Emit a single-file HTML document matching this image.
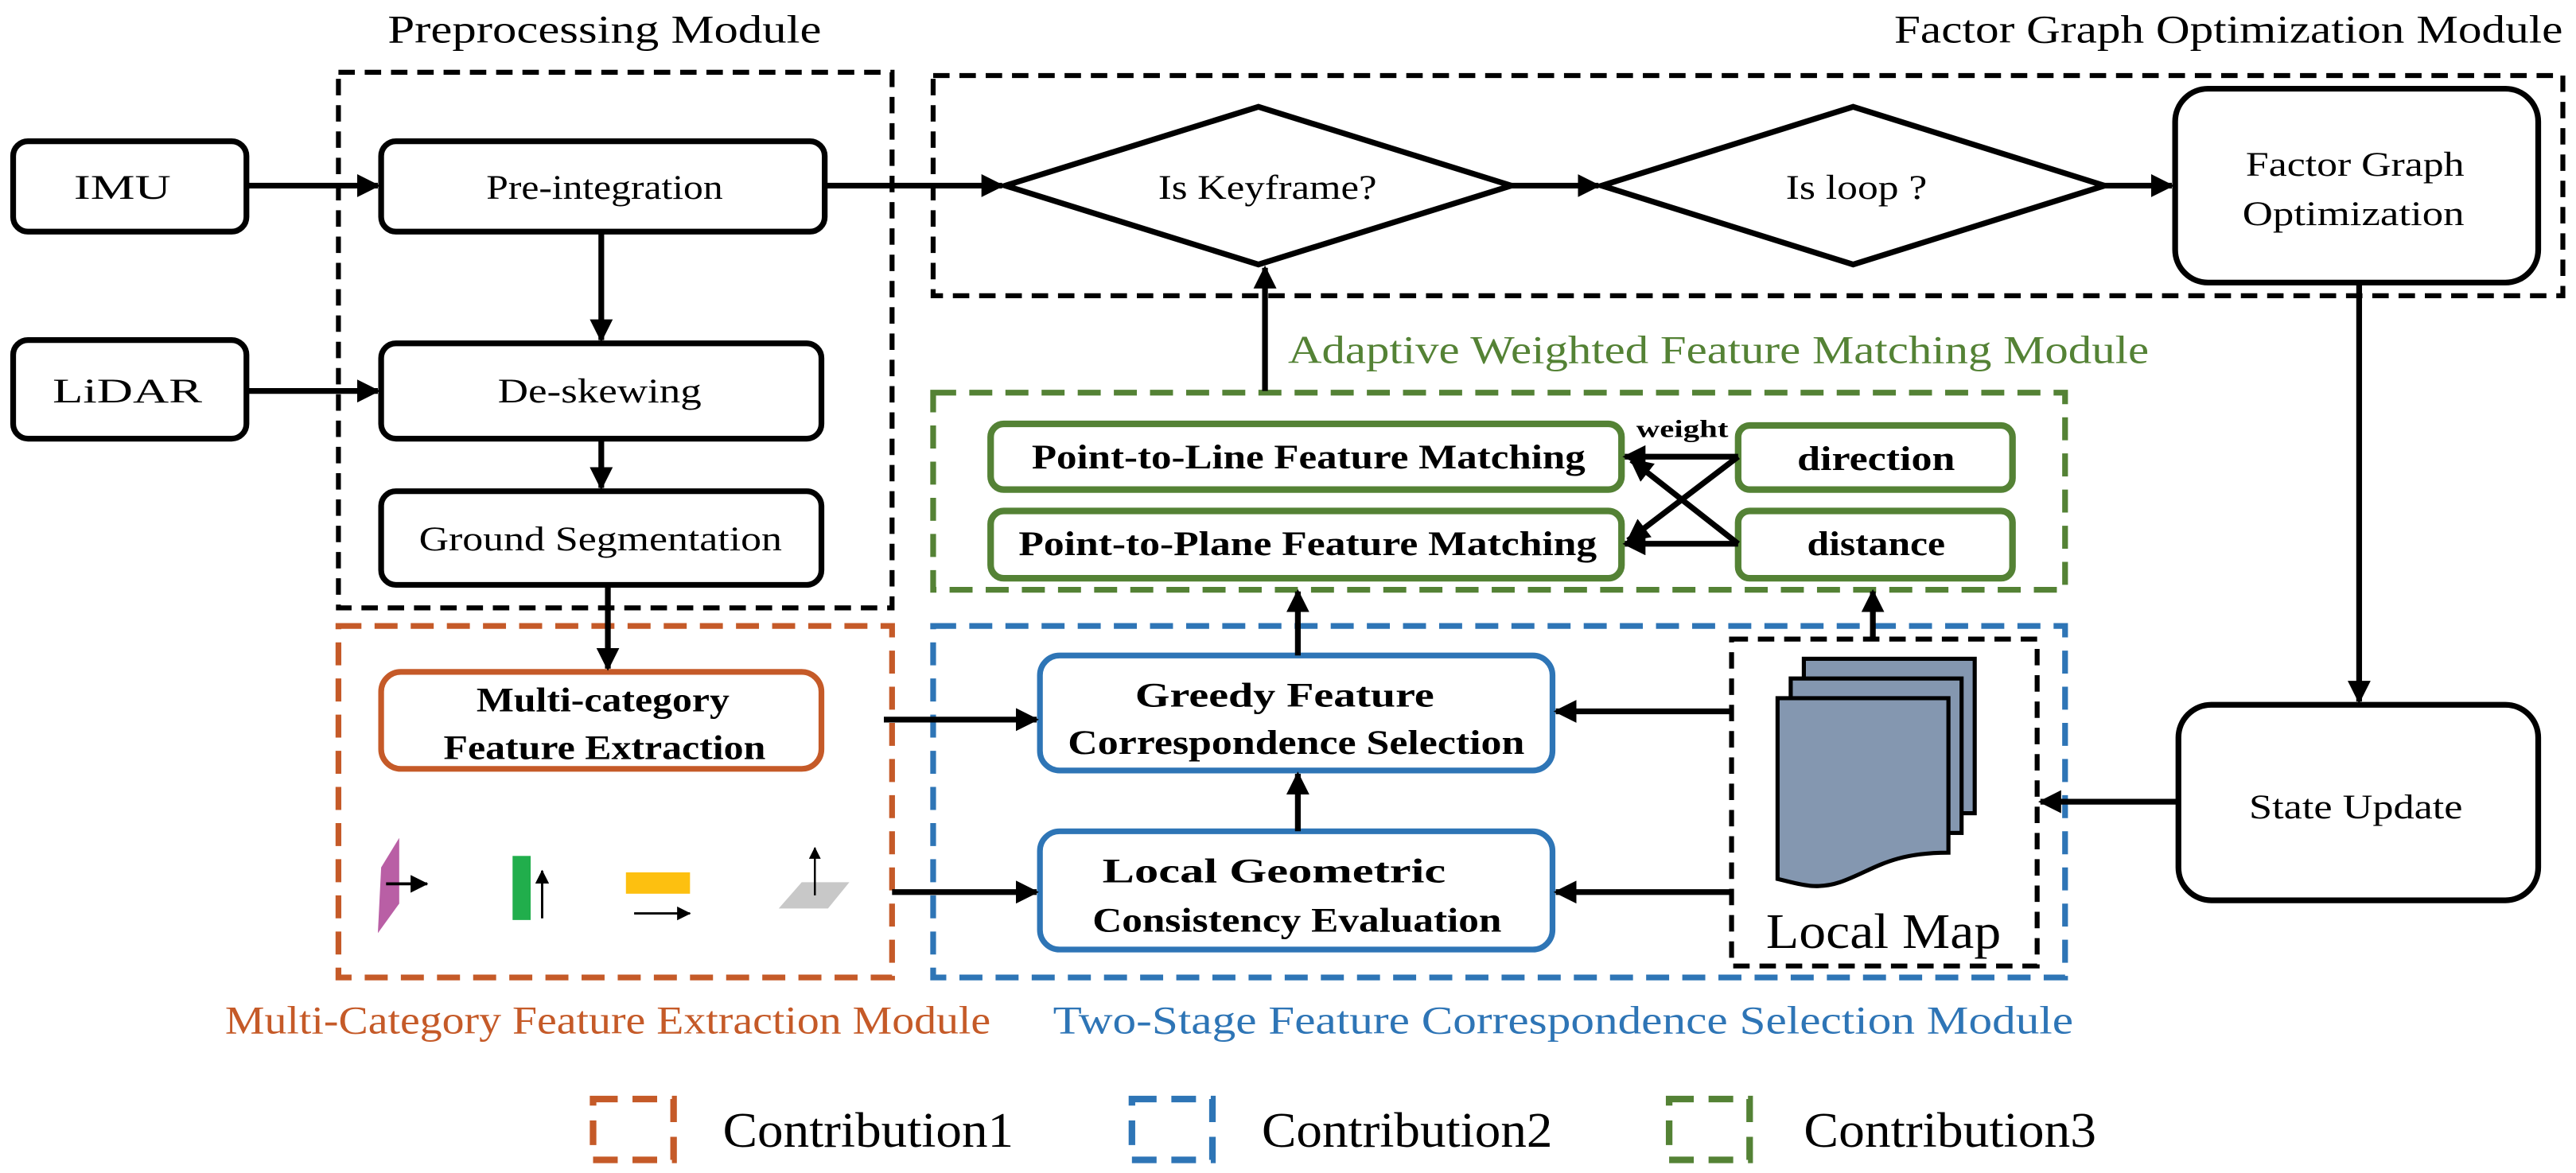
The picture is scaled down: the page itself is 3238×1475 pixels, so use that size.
<!DOCTYPE html>
<html><head><meta charset="utf-8"><style>
html,body{margin:0;padding:0;background:#fff;}
svg{display:block;}
text{font-family:"Liberation Serif","Times New Roman",serif;fill:#000;}
</style></head><body>
<svg width="3238" height="1475" viewBox="0 0 1568 714" preserveAspectRatio="none" xmlns="http://www.w3.org/2000/svg">
<defs>
<marker id="a" markerWidth="4" markerHeight="4" refX="3.6" refY="2" orient="auto" markerUnits="strokeWidth"><path d="M0,0 L4,2 L0,4 z" fill="#000"/></marker>
<marker id="b" markerWidth="6" markerHeight="6" refX="5.6" refY="3" orient="auto" markerUnits="strokeWidth"><path d="M0,0 L6,3 L0,6 z" fill="#000"/></marker>
</defs>
<text x="236" y="26" font-size="24" textLength="264" lengthAdjust="spacingAndGlyphs">Preprocessing Module</text>
<text x="1153" y="26" font-size="24" textLength="407" lengthAdjust="spacingAndGlyphs">Factor Graph Optimization Module</text>
<text x="784" y="221" font-size="24" style="fill:#548235" textLength="524" lengthAdjust="spacingAndGlyphs">Adaptive Weighted Feature Matching Module</text>
<text x="137" y="629" font-size="24" style="fill:#C55A28" textLength="466" lengthAdjust="spacingAndGlyphs">Multi-Category Feature Extraction Module</text>
<text x="641" y="629" font-size="24" style="fill:#2E75B6" textLength="621" lengthAdjust="spacingAndGlyphs">Two-Stage Feature Correspondence Selection Module</text>

<g fill="none" stroke-width="3">
<rect x="206" y="44" width="337" height="326" stroke="#000" stroke-dasharray="10,6"/>
<rect x="568" y="46" width="992" height="134" stroke="#000" stroke-dasharray="10,6"/>
<rect x="568" y="239" width="689" height="120" stroke="#548235" stroke-dasharray="14,8" stroke-width="3.5"/>
<rect x="206" y="381" width="337" height="214" stroke="#C55A28" stroke-dasharray="14,8" stroke-width="3.5"/>
<rect x="568" y="381" width="689" height="214" stroke="#2E75B6" stroke-dasharray="14,8" stroke-width="3.5"/>
<rect x="1054" y="389" width="186" height="199" stroke="#000" stroke-dasharray="10,6"/>
</g>

<g fill="#fff" stroke="#000" stroke-width="3.5">
<rect x="8" y="86" width="142" height="55" rx="9"/>
<rect x="8" y="207" width="142" height="60" rx="9"/>
<rect x="232" y="86" width="270" height="55" rx="9"/>
<rect x="232" y="209" width="268" height="58" rx="9"/>
<rect x="232" y="299" width="268" height="57" rx="9"/>
<polygon points="612,113 766,65 920,113 766,161"/>
<polygon points="975,113 1128,65 1281,113 1128,161"/>
<rect x="1324" y="54" width="221" height="118" rx="20"/>
<rect x="1326" y="429" width="219" height="119" rx="20"/>
</g>
<text x="45" y="121" font-size="21" textLength="59" lengthAdjust="spacingAndGlyphs">IMU</text>
<text x="32" y="245" font-size="21" textLength="91" lengthAdjust="spacingAndGlyphs">LiDAR</text>
<text x="296" y="121" font-size="21" textLength="144" lengthAdjust="spacingAndGlyphs">Pre-integration</text>
<text x="303" y="245" font-size="21" textLength="124" lengthAdjust="spacingAndGlyphs">De-skewing</text>
<text x="255" y="335" font-size="21" textLength="221" lengthAdjust="spacingAndGlyphs">Ground Segmentation</text>
<text x="705" y="121" font-size="21" textLength="133" lengthAdjust="spacingAndGlyphs">Is Keyframe?</text>
<text x="1087" y="121" font-size="21" textLength="86" lengthAdjust="spacingAndGlyphs">Is loop ?</text>
<text x="1367" y="107" font-size="21" textLength="133" lengthAdjust="spacingAndGlyphs">Factor Graph</text>
<text x="1365" y="137" font-size="21" textLength="135" lengthAdjust="spacingAndGlyphs">Optimization</text>
<text x="1369" y="498" font-size="21" textLength="130" lengthAdjust="spacingAndGlyphs">State Update</text>

<g fill="#fff" stroke="#548235" stroke-width="4">
<rect x="603" y="258" width="384" height="40" rx="8"/>
<rect x="603" y="311" width="384" height="41" rx="8"/>
<rect x="1058" y="259" width="167" height="39" rx="7"/>
<rect x="1058" y="311" width="167" height="41" rx="7"/>
</g>
<g font-weight="bold">
<text x="628" y="285" font-size="21" textLength="337" lengthAdjust="spacingAndGlyphs">Point-to-Line Feature Matching</text>
<text x="620" y="338" font-size="21" textLength="352" lengthAdjust="spacingAndGlyphs">Point-to-Plane Feature Matching</text>
<text x="1094" y="286" font-size="21" textLength="96" lengthAdjust="spacingAndGlyphs">direction</text>
<text x="1100" y="338" font-size="21" textLength="84" lengthAdjust="spacingAndGlyphs">distance</text>
<text x="996" y="266" font-size="15" textLength="56" lengthAdjust="spacingAndGlyphs">weight</text>
</g>

<rect x="232" y="409" width="268" height="59" rx="12" fill="#fff" stroke="#C55A28" stroke-width="3.5"/>
<rect x="633" y="399" width="312" height="70" rx="12" fill="#fff" stroke="#2E75B6" stroke-width="3.5"/>
<rect x="633" y="506" width="312" height="72" rx="12" fill="#fff" stroke="#2E75B6" stroke-width="3.5"/>
<g font-weight="bold">
<text x="290" y="433" font-size="21" textLength="154" lengthAdjust="spacingAndGlyphs">Multi-category</text>
<text x="270" y="462" font-size="21" textLength="196" lengthAdjust="spacingAndGlyphs">Feature Extraction</text>
<text x="691" y="430" font-size="21" textLength="182" lengthAdjust="spacingAndGlyphs">Greedy Feature</text>
<text x="650" y="459" font-size="21" textLength="278" lengthAdjust="spacingAndGlyphs">Correspondence Selection</text>
<text x="671" y="537" font-size="21" textLength="209" lengthAdjust="spacingAndGlyphs">Local Geometric</text>
<text x="665" y="567" font-size="21" textLength="249" lengthAdjust="spacingAndGlyphs">Consistency Evaluation</text>
</g>

<polygon points="243,510 243,550 230,568 232,528" fill="#B95FA5"/>
<line x1="235" y1="538" x2="260" y2="538" stroke="#000" stroke-width="1.8" marker-end="url(#b)"/>
<rect x="312" y="521" width="11" height="39" fill="#21AE4C"/>
<line x1="330" y1="559" x2="330" y2="530" stroke="#000" stroke-width="1.4" marker-end="url(#b)"/>
<rect x="381" y="531" width="39" height="13" fill="#FDC010"/>
<line x1="386" y1="556" x2="420" y2="556" stroke="#000" stroke-width="1.4" marker-end="url(#b)"/>
<polygon points="488,537 517,537 504,553 474,553" fill="#C8C8C8"/>
<line x1="496" y1="545" x2="496" y2="516" stroke="#000" stroke-width="1.2" marker-end="url(#b)"/>

<g fill="#8497B0" stroke="#000" stroke-width="2.5">
<rect x="1098" y="401" width="104" height="94"/>
<rect x="1090" y="413" width="104" height="94"/>
<path d="M1082,425 H1186 V519 C1150,519 1140,530 1120,537 C1105,542 1095,538 1082,535 Z"/>
</g>
<text x="1075" y="577" font-size="30" textLength="143" lengthAdjust="spacingAndGlyphs">Local Map</text>

<g stroke="#000" stroke-width="3.5" fill="none" marker-end="url(#a)">
<line x1="150" y1="113" x2="230" y2="113"/>
<line x1="150" y1="238" x2="230" y2="238"/>
<line x1="366" y1="141" x2="366" y2="207"/>
<line x1="366" y1="267" x2="366" y2="297"/>
<line x1="370" y1="356" x2="370" y2="407"/>
<line x1="502" y1="113" x2="610" y2="113"/>
<line x1="920" y1="113" x2="973" y2="113"/>
<line x1="1281" y1="113" x2="1322" y2="113"/>
<line x1="770" y1="238" x2="770" y2="163"/>
<line x1="1436" y1="172" x2="1436" y2="427"/>
<line x1="1326" y1="488" x2="1242" y2="488"/>
<line x1="538" y1="438" x2="631" y2="438"/>
<line x1="543" y1="543" x2="631" y2="543"/>
<line x1="1054" y1="433" x2="947" y2="433"/>
<line x1="1054" y1="543" x2="947" y2="543"/>
<line x1="790" y1="506" x2="790" y2="471"/>
<line x1="790" y1="399" x2="790" y2="360"/>
<line x1="1140" y1="389" x2="1140" y2="360"/>
<line x1="1058" y1="278" x2="989" y2="278"/>
<line x1="1058" y1="331" x2="989" y2="331"/>
<line x1="1058" y1="278" x2="991" y2="329"/>
<line x1="1058" y1="331" x2="993" y2="280"/>
</g>

<g fill="none" stroke-width="4" stroke-dasharray="15,9">
<rect x="361" y="669" width="49" height="37" stroke="#C55A28"/>
<rect x="689" y="669" width="49" height="37" stroke="#2E75B6"/>
<rect x="1016" y="669" width="49" height="37" stroke="#548235"/>
</g>
<text x="440" y="698" font-size="30" textLength="177" lengthAdjust="spacingAndGlyphs">Contribution1</text>
<text x="768" y="698" font-size="30" textLength="177" lengthAdjust="spacingAndGlyphs">Contribution2</text>
<text x="1098" y="698" font-size="30" textLength="178" lengthAdjust="spacingAndGlyphs">Contribution3</text>
</svg>
</body></html>
